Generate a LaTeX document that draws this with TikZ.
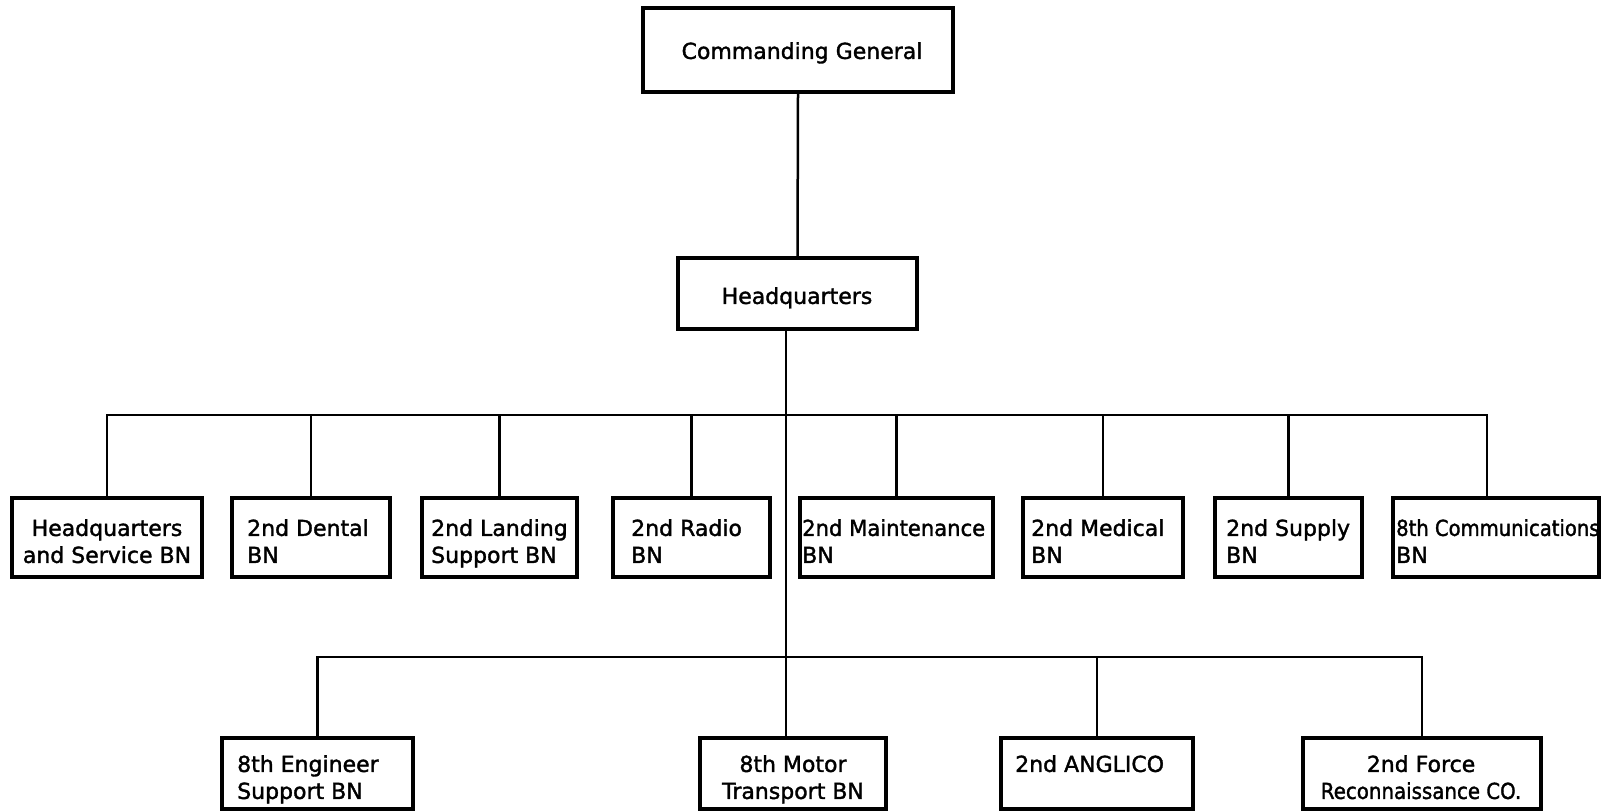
\documentclass[tikz,border=0pt]{standalone}
\usepackage{fontspec}
\setmainfont{DejaVu Sans}[BoldFont={DejaVu Sans}, BoldFeatures={FakeBold=1.6}]
\usepackage{graphicx}
\newcommand{\hsqz}[2]{\scalebox{#1}[1]{#2}}
\begin{document}
\begin{tikzpicture}[x=1pt,y=-1pt,
  box/.style={draw, line width=3.2pt, rectangle, inner sep=0pt},
  lbl/.style={inner sep=0pt, font=\fontsize{22}{27}\selectfont\bfseries},
  wire/.style={line width=2.5pt}]
\useasboundingbox (0,0) rectangle (1602,811);

% boxes
\node[box, minimum width=310pt, minimum height=84pt] (cg) at (798,50) {};
\node[box, minimum width=239pt, minimum height=71pt] (hq) at (797.5,293.5) {};

\node[box, minimum width=190pt, minimum height=79pt] (b1) at (107,537.5) {};
\node[box, minimum width=158pt, minimum height=79pt] (b2) at (311,537.5) {};
\node[box, minimum width=155pt, minimum height=79pt] (b3) at (499.5,537.5) {};
\node[box, minimum width=157pt, minimum height=79pt] (b4) at (691.5,537.5) {};
\node[box, minimum width=193pt, minimum height=79pt] (b5) at (896.5,537.5) {};
\node[box, minimum width=160pt, minimum height=79pt] (b6) at (1103,537.5) {};
\node[box, minimum width=147pt, minimum height=79pt] (b7) at (1288.5,537.5) {};
\node[box, minimum width=206pt, minimum height=79pt] (b8) at (1496,537.5) {};

\node[box, minimum width=191pt, minimum height=71pt] (c1) at (317.5,773.5) {};
\node[box, minimum width=186pt, minimum height=71pt] (c2) at (793,773.5) {};
\node[box, minimum width=192pt, minimum height=71pt] (c3) at (1097,773.5) {};
\node[box, minimum width=238pt, minimum height=71pt] (c4) at (1422,773.5) {};

% reference coordinates for buses and off-centre drops
\coordinate (bus1) at (0,415);
\coordinate (bus2) at (0,657);
\coordinate (tx) at (786,0);
\coordinate (b8x) at (1487,0);

% connectors
\draw[wire] (cg.south) -- (hq.north);
\draw[wire] (hq.south -| tx) -- (c2.north -| tx);
\draw[wire] (b1.north) -- (b1.north |- bus1) -- (bus1 -| b8x) -- (b8.north -| b8x);
\foreach \n in {b2,b3,b4,b5,b6,b7} \draw[wire] (\n.north) -- (\n.north |- bus1);
\draw[wire] (c1.north) -- (c1.north |- bus2) -- (bus2 -| c4.north) -- (c4.north);
\draw[wire] (c3.north) -- (c3.north |- bus2);

% texts
\node[lbl, anchor=north] (tcg) at (802,42) {Commanding General};
\node[lbl, anchor=north] (thq) at (797,287) {Headquarters};

\node[lbl, anchor=north, align=center] (t1) at (107,519) {Headquarters\\and Service BN};
\node[lbl, anchor=north west, align=left] (t2) at (247,519) {2nd Dental\\BN};
\node[lbl, anchor=north west, align=left] (t3) at (431,519) {2nd Landing\\Support BN};
\node[lbl, anchor=north west, align=left] (t4) at (631,519) {2nd Radio\\BN};
\node[lbl, anchor=north west, align=left] (t5) at (802,519) {\hsqz{0.96}{2nd Maintenance}\\BN};
\node[lbl, anchor=north west, align=left] (t6) at (1031,519) {2nd Medical\\BN};
\node[lbl, anchor=north west, align=left] (t7) at (1226,519) {2nd Supply\\BN};
\node[lbl, anchor=north west, align=left] (t8) at (1396,519) {\hsqz{0.89}{8th Communications}\\BN};

\node[lbl, anchor=north west, align=left] (u1) at (237,755) {8th Engineer\\Support BN};
\node[lbl, anchor=north, align=center] (u2) at (793,755) {8th Motor\\Transport BN};
\node[lbl, anchor=north west, align=left] (u3) at (1015,755) {2nd ANGLICO};
\node[lbl, anchor=north, align=center] (u4) at (1421,755) {2nd Force\\\hsqz{0.9}{Reconnaissance CO.}};
\end{tikzpicture}
\end{document}
